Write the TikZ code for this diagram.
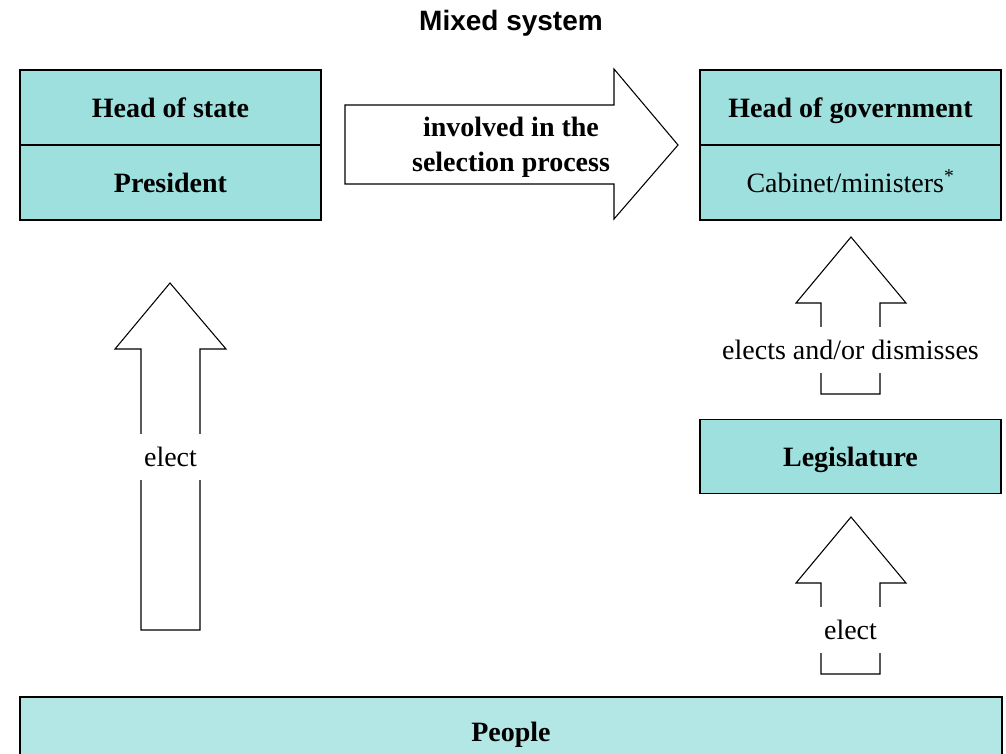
\documentclass[tikz,border=0pt]{standalone}
\usepackage{fontspec}
\setmainfont{Liberation Serif}
\newfontfamily\titlefont{Liberation Sans}
\newcommand*{\boxfont}{\fontsize{21}{26}\selectfont}
\definecolor{office}{RGB}{158,224,222}
\definecolor{people}{RGB}{179,231,229}
\usetikzlibrary{positioning}
\tikzstyle{base}=[x=0.75pt, y=-0.75pt, inner sep=0pt, outer sep=0pt]
\tikzstyle{box}=[draw=black, line width=0.9pt, fill=office, minimum width=225.75pt, minimum height=56.25pt, text height=19pt, text depth=4.5pt]
\tikzstyle{blockarrow}=[draw=black, line width=0.8pt, fill=white, line join=miter]
\tikzstyle{gaplabel}=[fill=white, minimum width=52pt, minimum height=35pt]

\begin{document}
\begin{tikzpicture}[base]
    \boxfont
        \useasboundingbox (0,0) rectangle (1006,753);
        \node [font=\titlefont\bfseries\fontsize{21}{26}\selectfont] (title) at (511,23) {Mixed system};
        % offices
        \node [box] (state) at (170.5,107.5) {\bfseries Head of state};
        \node [box, below=0pt of state] (president) {\bfseries President};
        \node [box] (government) at (850.5,107.5) {\bfseries Head of government};
        \node [box, below=0pt of government] (cabinet) {Cabinet/ministers\textsuperscript{*}};
        \node [box, minimum height=55.5pt] (legislature) at (850.5,456.5) {\bfseries Legislature};
        \node [box, fill=people, minimum width=736.5pt, minimum height=52.5pt] (people) at (511,732) {\bfseries People};
        % selection arrow
        \draw [blockarrow] (345,105) -- (614,105) -- (614,69) -- (678,145) -- (614,219) -- (614,184) -- (345,184) -- cycle;
        \node [align=center, font=\boxfont\bfseries] (selection) at (511,147) {involved in the\\selection process};
        % president elected
        \draw [blockarrow] (141,630) -- (141,349) -- (115,349) -- (170,283) -- (226,349) -- (200,349) -- (200,630) -- cycle;
        \node [gaplabel] (electpres) at (170.5,457) {elect};
        % government elected or dismissed
        \draw [blockarrow] (821,394) -- (821,303) -- (796,303) -- (851,237) -- (906,303) -- (880,303) -- (880,394) -- cycle;
        \node [gaplabel] (dismiss) at (850.5,350) {elects and/or dismisses};
        % legislature elected
        \draw [blockarrow] (821,674) -- (821,583) -- (796,583) -- (851,517) -- (906,583) -- (880,583) -- (880,674) -- cycle;
        \node [gaplabel] (electleg) at (850.5,630) {elect};
    \end{tikzpicture}
\end{document}
